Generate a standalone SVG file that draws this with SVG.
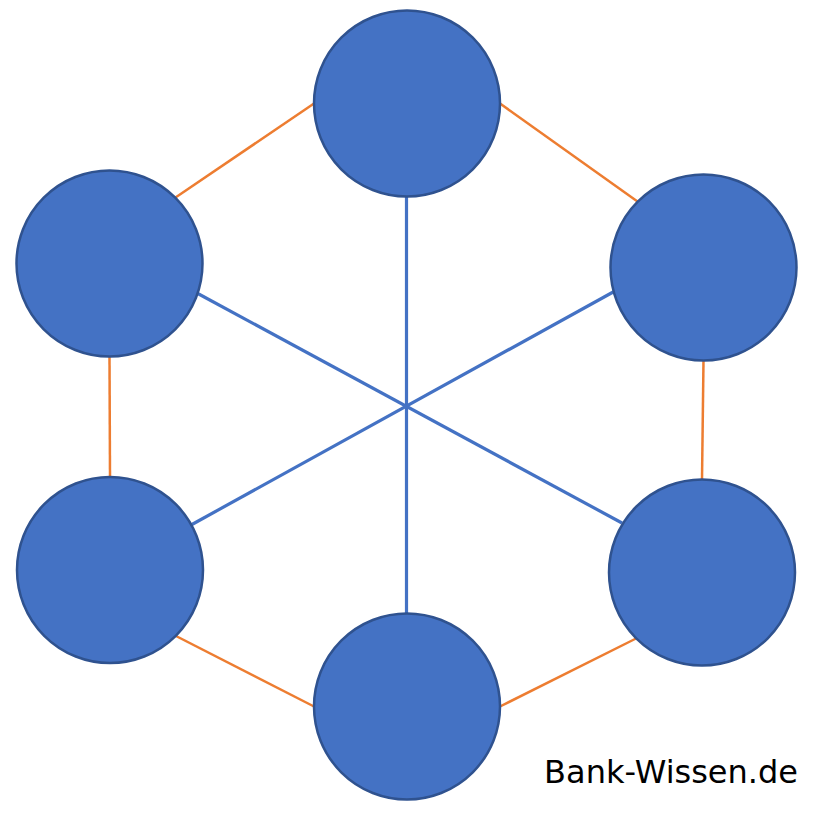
<svg xmlns="http://www.w3.org/2000/svg" width="826" height="818" viewBox="0 0 826 818">
<style>
.node{fill:#4472C4;stroke:#2F528F;stroke-width:2.5}
.blue{stroke:#4472C4;stroke-width:3.2;fill:none}
.orange{stroke:#ED7D31;stroke-width:2.5;fill:none}
.label{font-family:"DejaVu Sans",Verdana,sans-serif;font-size:32px;fill:#000}
</style>
<rect width="826" height="818" fill="#fff"/>
<g id="connectors">
<line class="blue" x1="406.5" y1="150" x2="406.5" y2="660"/>
<line class="blue" x1="195" y1="292" x2="622" y2="523"/>
<line class="blue" x1="615" y1="291" x2="191" y2="525"/>
<line class="orange" x1="314" y1="103.5" x2="175.5" y2="197.5"/>
<line class="orange" x1="500" y1="103.5" x2="637.5" y2="201.5"/>
<line class="orange" x1="109.5" y1="356.5" x2="110" y2="477"/>
<line class="orange" x1="703.5" y1="360.5" x2="702" y2="479.5"/>
<line class="orange" x1="176" y1="636" x2="314" y2="706.5"/>
<line class="orange" x1="636" y1="638.5" x2="500" y2="706.5"/>
</g>
<g id="node-top"><circle class="node" cx="407" cy="103.5" r="93"/></g>
<g id="node-upper-left"><circle class="node" cx="109.5" cy="263.5" r="93"/></g>
<g id="node-upper-right"><circle class="node" cx="703.5" cy="267.5" r="93"/></g>
<g id="node-lower-left"><circle class="node" cx="110" cy="570" r="93"/></g>
<g id="node-lower-right"><circle class="node" cx="702" cy="572.5" r="93"/></g>
<g id="node-bottom"><circle class="node" cx="407" cy="706.5" r="93"/></g>
<text class="label" x="798" y="783" text-anchor="end">Bank-Wissen.de</text>
</svg>
